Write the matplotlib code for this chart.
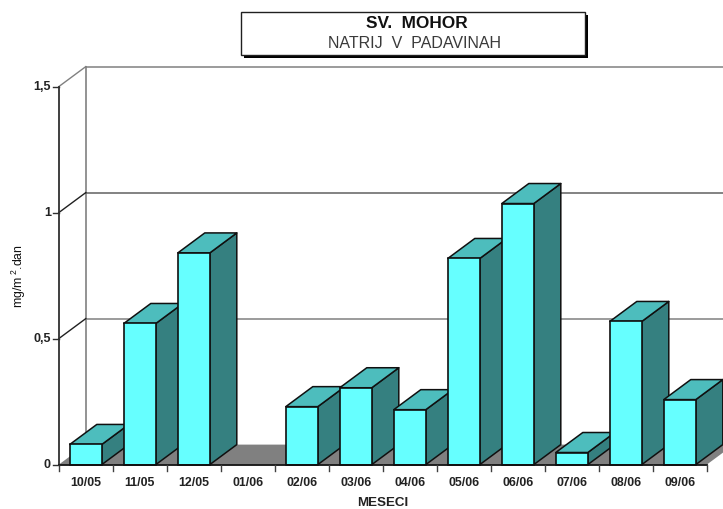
import matplotlib
matplotlib.use("Agg")
import matplotlib.pyplot as plt
from matplotlib.patches import Polygon, Rectangle

plt.rcParams['font.family'] = ['Liberation Sans', 'DejaVu Sans']
plt.rcParams['mathtext.fontset'] = 'custom'
plt.rcParams['mathtext.rm'] = 'Liberation Sans'
plt.rcParams['mathtext.default'] = 'rm'

categories = ['10/05', '11/05', '12/05', '01/06', '02/06', '03/06',
              '04/06', '05/06', '06/06', '07/06', '08/06', '09/06']
values = [0.08, 0.56, 0.84, 0.0, 0.23, 0.305, 0.218, 0.818, 1.036, 0.048, 0.568, 0.258]
y_ticks = [0, 0.5, 1, 1.5]
y_tick_labels = ['0', '0,5', '1', '1,5']
title = 'SV.  MOHOR'
subtitle = 'NATRIJ  V  PADAVINAH'
x_label = 'MESECI'
y_label = 'mg/m$^{\\ 2}$.dan'

W, H = 723, 509
X0, Y0 = 58.8, 464.6      # pixel position of the origin
PX_CAT, PX_UNIT = 54.0, 252.0
DX, DY = 27 / PX_CAT, 20 / PX_UNIT   # 3-D depth in data units
BAR_L, BAR_W = 11 / PX_CAT, 32 / PX_CAT

FRONT, TOP, SIDE, FLOOR = '#66FFFF', '#4DBDBD', '#358080', '#808080'
GRID, INK = '#808080', '#101010'

fig = plt.figure(figsize=(W / 100, H / 100), dpi=100, facecolor='white')
ax = fig.add_axes([0, 0, 1, 1])
ax.set_xlim(-X0 / PX_CAT, (W - X0) / PX_CAT)
ax.set_ylim(-(H - Y0) / PX_UNIT, Y0 / PX_UNIT)
ax.axis('off')
n = len(categories)

# floor
ax.add_patch(Polygon([(0, 0), (DX, DY), (n + DX, DY), (n, 0)], fc=FLOOR, ec='none', zorder=1))

# back wall and grid
ax.plot([DX, DX], [DY, 1.5 + DY], color=GRID, lw=1.2, zorder=1)
for t in y_ticks[1:]:
    ax.plot([DX, n + DX], [t + DY, t + DY], color=GRID if t != 1 else '#606060', lw=1.1, zorder=1)
    ax.plot([0, DX], [t, t + DY], color=GRID if t == 1.5 else '#202020', lw=1.0, zorder=1)

# bars
z = 2
for i, v in enumerate(values):
    if v <= 0:
        continue
    l, r = i + BAR_L, i + BAR_L + BAR_W
    ax.add_patch(Polygon([(r, 0), (r + DX, DY), (r + DX, v + DY), (r, v)],
                         fc=SIDE, ec=INK, lw=1.1, joinstyle='round', zorder=z))
    ax.add_patch(Polygon([(l, v), (l + DX, v + DY), (r + DX, v + DY), (r, v)],
                         fc=TOP, ec=INK, lw=1.1, joinstyle='round', zorder=z))
    ax.add_patch(Rectangle((l, 0), BAR_W, v, fc=FRONT, ec=INK, lw=1.2, zorder=z + 0.5))
    z += 1

# axes lines
ax.plot([0, 0], [0, 1.5], color='#303030', lw=1.3, zorder=50)
ax.plot([0, n], [0, 0], color=INK, lw=1.3, zorder=50)
tick_y = 6 / PX_UNIT
tick_x = 6 / PX_CAT
for i in range(n + 1):
    ax.plot([i, i], [0, -tick_y], color='#404040', lw=1.0, zorder=50)
for t, lab in zip(y_ticks, y_tick_labels):
    ax.plot([-tick_x, 0], [t, t], color='#303030', lw=1.0, zorder=50)
    ax.text(-tick_x - 2 / PX_CAT, t, lab, ha='right', va='center', fontsize=9.0,
            fontweight='bold', color='#222222', zorder=50)
for i, lab in enumerate(categories):
    ax.text(i + 0.5, -18 / PX_UNIT, lab, ha='center', va='center', fontsize=8.9,
            fontweight='bold', color='#222222', zorder=50)

fig.text(383 / W, 1 - 503.5 / H, x_label, ha='center', va='center', fontsize=9.6,
         fontweight='bold', color='#222222')
fig.text(18.5 / W, 1 - 276 / H, y_label, rotation=90, ha='center', va='center',
         fontsize=8.8, color='#111111')

# title box with shadow
def px_rect(x0, y0, x1, y1, **kw):
    fig.add_artist(Rectangle((x0 / W, 1 - y1 / H), (x1 - x0) / W, (y1 - y0) / H,
                             transform=fig.transFigure, **kw))
px_rect(243.5, 14.5, 587.8, 57.5, fc='black', ec='none', zorder=60)
px_rect(241, 12, 585, 55, fc='white', ec='#202020', lw=1.0, zorder=61)
fig.text(416.5 / W, 1 - 24 / H, title, ha='center', va='center', fontsize=12.4,
         fontweight='bold', color='#111111', zorder=62)
fig.text(414.5 / W, 1 - 44 / H, subtitle, ha='center', va='center', fontsize=11.5,
         color='#3a3a3a', zorder=62)

fig.savefig('out.png', dpi=100, facecolor='white')
